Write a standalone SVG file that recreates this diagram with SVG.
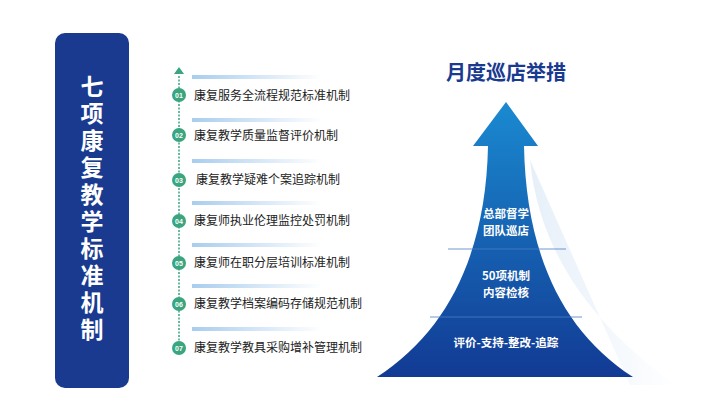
<svg xmlns="http://www.w3.org/2000/svg" width="728" height="420" viewBox="0 0 728 420">
<defs>
<linearGradient id="ag" x1="0" y1="0" x2="0" y2="1"><stop offset="0" stop-color="#1a8ad0"/><stop offset="1" stop-color="#123a94"/></linearGradient>
<linearGradient id="bar" x1="0" y1="0" x2="1" y2="0"><stop offset="0" stop-color="#a9cdee"/><stop offset="1" stop-color="#a9cdee" stop-opacity="0"/></linearGradient>
<linearGradient id="sh" x1="0" y1="0" x2="1" y2="0"><stop offset="0" stop-color="#e6eff9"/><stop offset="1" stop-color="#e6eff9" stop-opacity="0"/></linearGradient>
<style>
.it{font-family:"Noto Sans CJK SC",sans-serif;font-size:12px;fill:#222}
.nm{font-family:"Liberation Sans",sans-serif;font-size:7px;fill:#fff;font-weight:bold;text-anchor:middle}
.w{font-family:"Noto Sans CJK SC",sans-serif;font-size:11.5px;fill:#fff;font-weight:bold;text-anchor:middle}
.c{fill:#3aa57f}
</style>
</defs>
<rect width="728" height="420" fill="#fff"/>
<g id="title-panel">
<rect x="55" y="33" width="74" height="355" rx="10" fill="#1a3a8f"/>
<text font-family="Noto Sans CJK SC,sans-serif" font-size="23" font-weight="bold" fill="#fff" text-anchor="middle">
<tspan x="92" y="95">七</tspan><tspan x="92" y="122">项</tspan><tspan x="92" y="149">康</tspan><tspan x="92" y="176">复</tspan><tspan x="92" y="203">教</tspan><tspan x="92" y="230">学</tspan><tspan x="92" y="257">标</tspan><tspan x="92" y="284">准</tspan><tspan x="92" y="311">机</tspan><tspan x="92" y="338">制</tspan></text>
</g>
<g id="connectors">
<line x1="179" y1="76" x2="179" y2="356" stroke="#3aa57f" stroke-width="1.5" stroke-dasharray="2,1.5"/>
<path d="M174,74 L179,67 L184,74 Z" fill="#3aa57f"/>
</g>
<g id="list">
<g id="i1"><rect x="192" y="75" width="130" height="4" fill="url(#bar)"/><circle cx="179" cy="95" r="7" class="c"/><text x="179" y="97.5" class="nm">01</text><text x="194" y="100" class="it">康复服务全流程规范标准机制</text></g>
<g id="i2"><rect x="192" y="118" width="130" height="4" fill="url(#bar)"/><circle cx="179" cy="135" r="7" class="c"/><text x="179" y="137.5" class="nm">02</text><text x="194" y="140" class="it">康复教学质量监督评价机制</text></g>
<g id="i3"><rect x="192" y="159" width="130" height="4" fill="url(#bar)"/><circle cx="179" cy="180" r="7" class="c"/><text x="179" y="182.5" class="nm">03</text><text x="196" y="184" class="it">康复教学疑难个案追踪机制</text></g>
<g id="i4"><rect x="192" y="201" width="130" height="4" fill="url(#bar)"/><circle cx="179" cy="221" r="7" class="c"/><text x="179" y="223.5" class="nm">04</text><text x="194" y="225" class="it">康复师执业伦理监控处罚机制</text></g>
<g id="i5"><rect x="192" y="243" width="130" height="4" fill="url(#bar)"/><circle cx="179" cy="263" r="7" class="c"/><text x="179" y="265.5" class="nm">05</text><text x="194" y="267" class="it">康复师在职分层培训标准机制</text></g>
<g id="i6"><rect x="192" y="284" width="130" height="4" fill="url(#bar)"/><circle cx="179" cy="304" r="7" class="c"/><text x="179" y="306.5" class="nm">06</text><text x="194" y="308" class="it">康复教学档案编码存储规范机制</text></g>
<g id="i7"><rect x="192" y="327" width="130" height="4" fill="url(#bar)"/><circle cx="179" cy="348" r="7" class="c"/><text x="179" y="350.5" class="nm">07</text><text x="194" y="352" class="it">康复教学教具采购增补管理机制</text></g>
</g>
<g id="arrow">
<path d="M530,160 C540,260 600,330 675,385 L630,385 Z" fill="url(#sh)"/>
<text x="506" y="80" font-family="Noto Sans CJK SC,sans-serif" font-size="20" font-weight="bold" fill="#1a3a8f" text-anchor="middle">月度巡店举措</text>
<path d="M506,102 L538,146 L524,146 C526,250 560,330 633,377 L377,377 C450,330 486,250 488,146 L473,146 Z" fill="url(#ag)"/>
<line x1="448" y1="249" x2="566" y2="249" stroke="#4a7ec4" stroke-width="0.8"/>
<line x1="430" y1="317" x2="582" y2="317" stroke="#4a7ec4" stroke-width="0.8"/>
<text class="w"><tspan x="506" y="218">总部督学</tspan><tspan x="506" y="235">团队巡店</tspan></text>
<text class="w"><tspan x="506" y="280">50项机制</tspan><tspan x="506" y="297">内容检核</tspan></text>
<text x="506" y="347" class="w">评价-支持-整改-追踪</text>
</g>
</svg>
